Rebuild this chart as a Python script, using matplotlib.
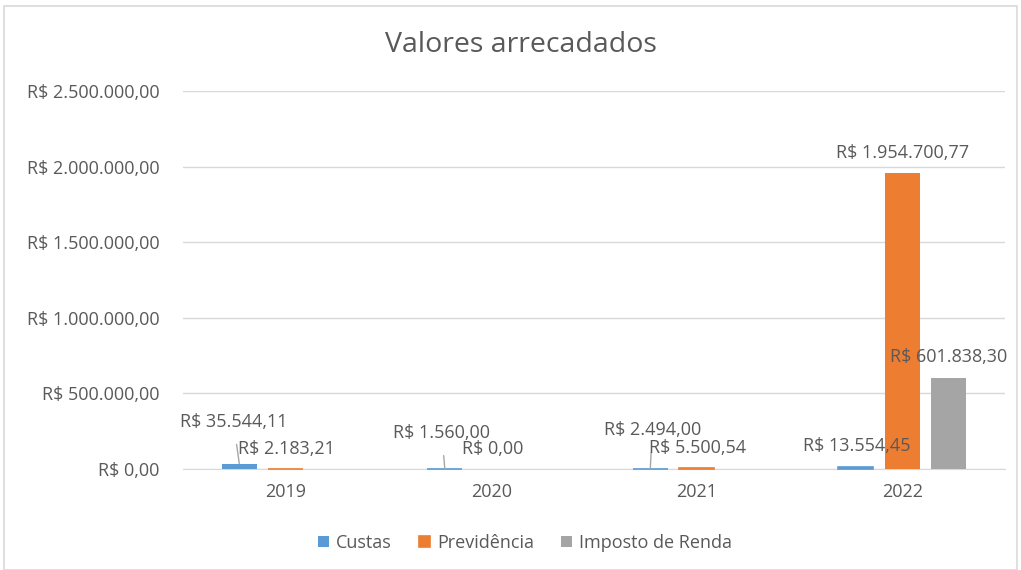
import numpy as np
import matplotlib
matplotlib.use("Agg")
from matplotlib import pyplot as plt
from matplotlib.ticker import FuncFormatter, MultipleLocator
from matplotlib.patches import Rectangle

anos = ["2019", "2020", "2021", "2022"]
custas = [35544.11, 1560.00, 2494.00, 13554.45]
previdencia = [2183.21, 0.00, 5500.54, 1954700.77]
imposto_renda = [np.nan, np.nan, np.nan, 601838.30]

series = ["Custas", "Previdência", "Imposto de Renda"]
cores = ["#5B9BD5", "#ED7D31", "#A5A5A5"]

# label offsets (pixels) relative to bar top, with leader flag
label_offsets = {
    ("Custas", 0): (-6, 42, True),
    ("Previdência", 0): (1, 20, False),
    ("Custas", 1): (-3, 36, True),
    ("Previdência", 1): (1, 20, False),
    ("Custas", 2): (2, 39, True),
    ("Previdência", 2): (1, 20, False),
    ("Custas", 3): (1, 21, False),
    ("Previdência", 3): (0, 20, False),
    ("Imposto de Renda", 3): (0, 21, False),
}

TXT = "#595959"
FONT = ["Open Sans", "DejaVu Sans"]


def brl(v):
    s = "{:,.2f}".format(v)
    s = s.replace(",", "X").replace(".", ",").replace("X", ".")
    return "R$ " + s


def main():
    plt.rcParams["font.family"] = FONT
    fig = plt.figure(figsize=(10.21, 5.70), dpi=100)
    fig.patches.append(Rectangle((4 / 1021, 0), 1013 / 1021, 1 - 6 / 570,
                                 transform=fig.transFigure, fill=False,
                                 edgecolor="#D9D9D9", linewidth=1.2))
    ax = fig.add_axes([183 / 1021, 1 - 469 / 570, 822 / 1021, 378 / 570])

    x = np.arange(len(anos))
    w = 0.172
    step = 0.226
    for i, (nome, vals, cor) in enumerate(zip(series, [custas, previdencia, imposto_renda], cores)):
        pos = x + (i - 1) * step
        # excel keeps tiny bars visible as a thin line
        lws = [1.2 if (not np.isnan(v) and 0 < v < 20000) else 0 for v in vals]
        ax.bar(pos, vals, width=w, color=cor, edgecolor=cor, linewidth=lws,
               label=nome, zorder=3, clip_on=False)
        for j, v in enumerate(vals):
            if np.isnan(v):
                continue
            dx, dy, leader = label_offsets.get((nome, j), (0, 20, False))
            ax.annotate(brl(v), xy=(pos[j], v), xytext=(dx, dy),
                        textcoords="offset pixels", ha="center", va="center",
                        fontsize=13, color=TXT, zorder=5,
                        arrowprops=dict(arrowstyle="-", color="#A6A6A6", lw=1,
                                        shrinkA=8, shrinkB=0) if leader else None)

    ax.set_xlim(-0.5, 3.5)
    ax.set_ylim(0, 2500000)
    ax.yaxis.set_major_locator(MultipleLocator(500000))
    ax.yaxis.set_major_formatter(FuncFormatter(lambda v, p: brl(v)))
    ax.set_xticks(x)
    ax.set_xticklabels(anos)
    ax.tick_params(axis="both", length=0, labelsize=13, colors=TXT)
    ax.tick_params(axis="y", pad=17)
    ax.tick_params(axis="x", pad=10)
    ax.grid(axis="y", color="#D9D9D9", linewidth=1, zorder=0)
    for s in ["top", "right", "left"]:
        ax.spines[s].set_visible(False)
    ax.spines["bottom"].set_color("#D9D9D9")
    ax.spines["bottom"].set_zorder(1)

    fig.text(521 / 1021, 1 - 45 / 570, "Valores arrecadados", ha="center", va="center",
             fontsize=20.5, color=TXT)
    fig.legend(loc="center", bbox_to_anchor=(525 / 1021, 1 - 543 / 570), ncol=3,
               frameon=False, fontsize=13, labelcolor=TXT, handlelength=0.6,
               handleheight=0.6, columnspacing=1.5, handletextpad=0.4)

    fig.savefig("out.png", dpi=100)


if __name__ == "__main__":
    main()
